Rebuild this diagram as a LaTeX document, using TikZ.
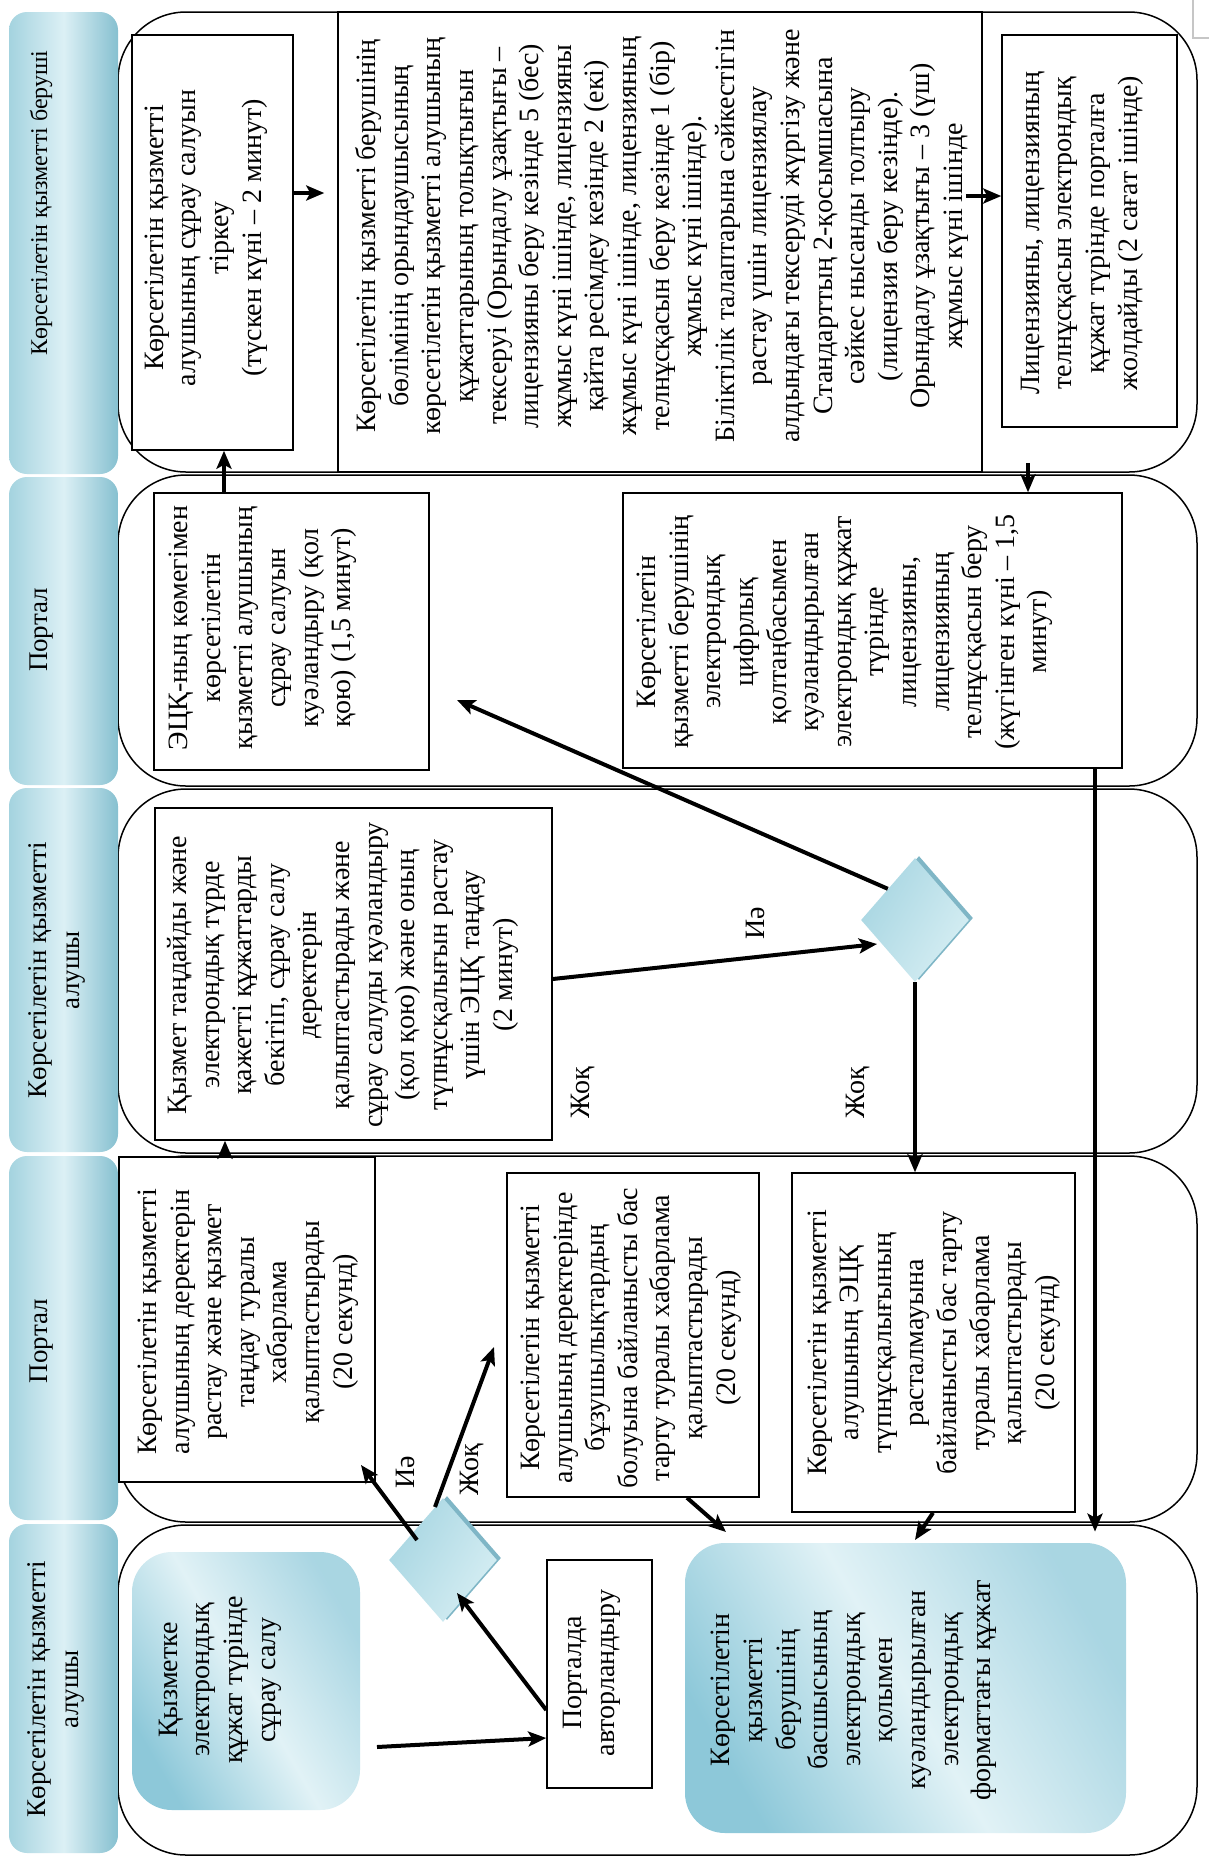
\documentclass[tikz,border=0pt]{standalone}
\usepackage{fontspec}
\setmainfont{Liberation Serif}
\usetikzlibrary{arrows.meta,shapes.geometric,fit}
\definecolor{hdA}{HTML}{A4D3DF}
\definecolor{hdB}{HTML}{86C0D0}
\definecolor{hdC}{HTML}{DCF0F5}
\definecolor{blA}{HTML}{8DC8D9}
\definecolor{blB}{HTML}{E1F2F6}
\definecolor{dmA}{HTML}{A8D6E2}
\definecolor{dmB}{HTML}{D6EEF3}
\definecolor{dmD}{HTML}{7FB6C6}
\newcommand{\bfnt}{\fontsize{14pt}{16.3pt}\selectfont}
\newcommand{\hfnt}{\fontsize{13.5pt}{16.5pt}\selectfont}
\newcommand{\hsfnt}{\fontsize{12pt}{14pt}\selectfont}
\tikzset{
  lanest/.style={draw=black, line width=0.75pt, rounded corners=34pt, inner sep=0pt, fill=white},
  hdrst/.style={inner sep=0pt, rounded corners=9pt, left color=hdA, right color=hdB, middle color=hdC},
  boxst/.style={draw=black, line width=0.75pt, fill=white, inner sep=0pt},
  bluest/.style={inner sep=0pt, rounded corners=20pt, left color=blA, right color=blA!75!white, middle color=blB, shading angle=120},
  dmst/.style={diamond, inner sep=0pt, minimum width=54pt, minimum height=62pt, left color=dmA, right color=dmB, shading angle=60},
  dmsh/.style={diamond, inner sep=0pt, minimum width=54pt, minimum height=62pt, fill=dmD},
  txt/.style={rotate=90, align=center, inner sep=0pt, font=\bfnt},
  hdt/.style={rotate=90, align=center, inner sep=0pt, font=\hfnt},
  arr/.style={line width=2pt, -{Stealth[length=9pt,width=7.5pt,inset=2pt]}},
}
\begin{document}
\begin{tikzpicture}[x=0.5pt,y=-0.5pt]
\useasboundingbox (0,0) rectangle (1209,1860);
\fill[white] (0,0) rectangle (1209,1860);
% corner artefact
\draw[gray!45, line width=0.6pt] (1209,38) -- (1193,38) -- (1193,0);
% lanes
\node[lanest, fit={(118,12)(1197,472)}] (L1) {};
\node[lanest, fit={(118,475)(1197,786)}] (L2) {};
\node[lanest, fit={(118,789)(1197,1153)}] (L3) {};
\node[lanest, fit={(118,1156)(1197,1522)}] (L4) {};
\node[lanest, fit={(118,1525)(1197,1855)}] (L5) {};
% headers
\node[hdrst, fit={(9,12)(118,474)}] (H1) {};
\node[hdrst, fit={(9,477)(118,785)}] (H2) {};
\node[hdrst, fit={(9,788)(118,1152)}] (H3) {};
\node[hdrst, fit={(9,1156)(118,1520)}] (H4) {};
\node[hdrst, fit={(9,1524)(118,1853)}] (H5) {};
\node[hdt, font=\hsfnt] (TH1) at (41,203) {Көрсетілетін қызметті беруші};
\node[hdt] (TH2) at (42,630) {Портал};
\node[hdt] (TH3) at (57,970) {Көрсетілетін қызметті\\алушы};
\node[hdt] (TH4) at (42,1341) {Портал};
\node[hdt] (TH5) at (56,1689) {Көрсетілетін қызметті\\алушы};
% boxes
\node[boxst, fit={(338,12)(982,472)}] (B2) {};
\node[boxst, fit={(132,35)(293,450)}] (B1) {};
\node[boxst, fit={(1002,35)(1177,427)}] (B3) {};
\node[boxst, fit={(154,493)(429,770)}] (B4) {};
\node[boxst, fit={(623,493)(1122,768)}] (B5) {};
\node[boxst, fit={(155,808)(552,1140)}] (B6) {};
\node[boxst, fit={(119,1157)(375,1482)}] (B7) {};
\node[boxst, fit={(507,1173)(759,1497)}] (B8) {};
\node[boxst, fit={(792,1173)(1075,1512)}] (B9) {};
\node[boxst, fit={(547,1560)(652,1788)}] (B10) {};
\node[bluest, fit={(132,1552)(360,1810)}] (S1) {};
\node[bluest, fit={(685,1543)(1126,1833)}] (F) {};
% diamonds
\node[dmsh] (D2s) at (919,918) {};
\node[dmst] (D2) at (915,920) {};
\node[dmsh] (D1s) at (447,1558) {};
\node[dmst] (D1) at (443,1560) {};
% texts
\node[txt] (T1) at (206,238) {Көрсетілетін қызметті\\алушының сұрау салуын\\тіркеу\\(түскен күні – 2 минут)};
\node[txt] (T2) at (662,236) {Көрсетілетін қызметті берушінің\\бөлімінің орындаушысының\\көрсетілетін қызметті алушының\\құжаттарының толықтығын\\тексеруі (Орындалу ұзақтығы –\\лицензияны беру кезінде 5 (бес)\\жұмыс күні ішінде, лицензияны\\қайта ресімдеу кезінде 2 (екі)\\жұмыс күні ішінде, лицензияның\\телнұсқасын беру кезінде 1 (бір)\\жұмыс күні ішінде).\\Біліктілік талаптарына сәйкестігін\\растау үшін лицензиялау\\алдындағы тексеруді жүргізу және\\Стандарттың 2-қосымшасына\\сәйкес нысанды толтыру\\(лицензия беру кезінде).\\Орындалу ұзақтығы – 3 (үш)\\жұмыс күні ішінде};
\node[txt] (T3) at (1082,233) {Лицензияны, лицензияның\\телнұсқасын электрондық\\құжат түрінде порталға\\жолдайды (2 сағат ішінде)};
\node[txt] (T4) at (263,628) {ЭЦҚ-ның көмегімен\\көрсетілетін\\қызметті алушының\\сұрау салуын\\куәландыру (қол\\қою) (1,5 минут)};
\node[txt] (T5) at (845,632) {Көрсетілетін\\қызметті берушінің\\электрондық\\цифрлық\\қолтаңбасымен\\куәландырылған\\электрондық құжат\\түрінде\\лицензияны,\\лицензияның\\телнұсқасын беру\\(жүгінген күні – 1,5\\минут)};
\node[txt] (T6) at (343,975) {Қызмет таңдайды және\\электрондық түрде\\қажетті құжаттарды\\бекітіп, сұрау салу\\деректерін\\қалыптастырады және\\сұрау салуды куәландыру\\(қол қою) және оның\\түпнұсқалығын растау\\үшін ЭЦҚ таңдау\\(2 минут)};
\node[txt] (T7) at (248,1322) {Көрсетілетін қызметті\\алушының деректерін\\растау және қызмет\\таңдау туралы\\хабарлама\\қалыптастырады\\(20 секунд)};
\node[txt] (T8) at (631,1338) {Көрсетілетін қызметті\\алушының деректерінде\\бұзушылықтардың\\болуына байланысты бас\\тарту туралы хабарлама\\қалыптастырады\\(20 секунд)};
\node[txt] (T9) at (934,1343) {Көрсетілетін қызметті\\алушының ЭЦҚ\\түпнұсқалығының\\расталмауына\\байланысты бас тарту\\туралы хабарлама\\қалыптастырады\\(20 секунд)};
\node[txt] (TS1) at (220,1680) {Қызметке\\электрондық\\құжат түрінде\\сұрау салу};
\node[txt] (T10) at (592,1673) {Порталда\\авторландыру};
\node[txt] (TF) at (854,1690) {Көрсетілетін\\қызметті\\берушінің\\басшысының\\электрондық\\қолымен\\куәландырылған\\электрондық\\форматтағы құжат};
% labels
\node[txt] (Y2) at (755,923) {Иә};
\node[txt] (N2a) at (858,1093) {Жоқ};
\node[txt] (N2b) at (583,1093) {Жоқ};
\node[txt] (Y1) at (405,1472) {Иә};
\node[txt] (N1) at (472,1470) {Жоқ};
% connector end points
\coordinate (c1) at (877,944);
\coordinate (c2) at (457,700);
\coordinate (c3) at (361,1465);
\coordinate (c4) at (494,1347);
\coordinate (c5) at (726,1532);
\coordinate (c6) at (915,1540);
\coordinate (c7) at (377,1747);
\coordinate (c8) at (457,1593);
\coordinate (c9) at (417,1540);
\coordinate (c10) at (435,1507);
% connectors
\draw[arr, shorten >=6.5pt] (B1.east |- 0,193) -- (B2.west |- 0,193);
\draw[arr, shorten <=-8.5pt] (B2.east |- 0,196) -- (B3.west |- 0,196);
\draw[arr] (B4.north -| 224,0) -- (B1.south -| 224,0);
\draw[arr, shorten <=17.5pt] (B3.south -| 1028,0) -- (B5.north -| 1028,0);
\draw[arr, shorten >=5.5pt] (B5.south -| 1095,0) -- (F.north -| 1095,0);
\draw[arr] (B6.east |- 0,979) -- (c1);
\draw[arr] (D2.north west) -- (c2);
\draw[arr] (D2.south) -- (B9.north -| D2.south);
\draw[arr] (B7.north -| 225,0) -- (B6.south -| 225,0);
\draw[arr] (c9) -- (c3);
\draw[arr] (c10) -- (c4);
\draw[arr] (B8.south -| 687,0) -- (c5);
\draw[arr] (B9.south -| 933,0) -- (c6);
\draw[arr] (c7) -- (B10.west |- 0,1738);
\draw[arr] (B10.west |- 0,1710) -- (c8);
\end{tikzpicture}
\end{document}
